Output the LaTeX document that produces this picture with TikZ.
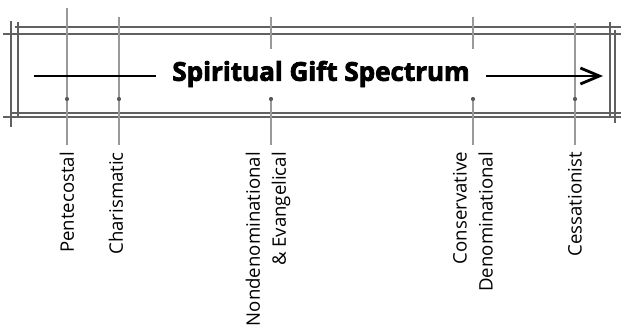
\documentclass[tikz,border=0pt]{standalone}
\usepackage{fontspec}
\setmainfont{Open Sans}
\newfontfamily\titlefont{Open Sans}[BoldFeatures={FakeBold=3}]
\usetikzlibrary{arrows.meta}
\begin{document}
\begin{tikzpicture}[x=1pt,y=-1pt,
  frameline/.style={draw=black!62, line width=1.1pt},
  tickline/.style={draw=black!40, line width=1.1pt},
  dotmark/.style={circle, fill=black!65, inner sep=0pt, minimum size=4.2pt},
  lab/.style={rotate=90, anchor=east, align=right, inner xsep=7pt, inner ysep=0pt,
    font=\fontsize{18.6}{26}\selectfont},
  titlebox/.style={fill=white, inner sep=0pt, minimum width=330pt, minimum height=50pt,
    font=\titlefont\fontsize{26}{30}\selectfont\bfseries}]
\useasboundingbox (0,0) rectangle (621,332);
% frame
\draw[frameline] (15,27) -- (621,27);
\draw[frameline] (3,34) -- (621,34);
\draw[frameline] (10,113) -- (621,113);
\draw[frameline] (3,117) -- (621,117);
\draw[frameline] (11,21) -- (11,127);
\draw[frameline] (18,22) -- (18,117);
\draw[frameline] (610,22) -- (610,117);
\draw[frameline] (615,30) -- (615,123);
% tick tops
\coordinate (t1) at (67,8);
\coordinate (t2) at (119,17);
\coordinate (t3) at (271,17);
\coordinate (t4) at (473,17);
\coordinate (t5) at (575,23);
% labels
\node[lab] (l1) at (67,145) {Pentecostal};
\node[lab] (l2) at (116,145) {Charismatic};
\node[lab] (l3) at (268,145) {Nondenominational\\\& Evangelical};
\node[lab] (l4) at (473,145) {Conservative\\Denominational};
\node[lab] (l5) at (575,145) {Cessationist};
% ticks
\draw[tickline] (t1) -- (67,145);
\draw[tickline] (t2) -- (119,145);
\draw[tickline] (t3) -- (271,145);
\draw[tickline] (t4) -- (473,145);
\draw[tickline] (t5) -- (575,145);
% arrow
\coordinate (aL) at (34,76);
\coordinate (aR) at (603,76);
\draw[line width=2.8pt, -{Straight Barb[length=19pt,width=16pt]}] (aL) -- (aR);
\node[titlebox] (title) at (321,74) {Spiritual Gift Spectrum};
% dots
\node[dotmark] (d1) at (67,99) {};
\node[dotmark] (d2) at (119,99) {};
\node[dotmark] (d3) at (271,99) {};
\node[dotmark] (d4) at (473,99) {};
\node[dotmark] (d5) at (575,99) {};
\end{tikzpicture}
\end{document}
